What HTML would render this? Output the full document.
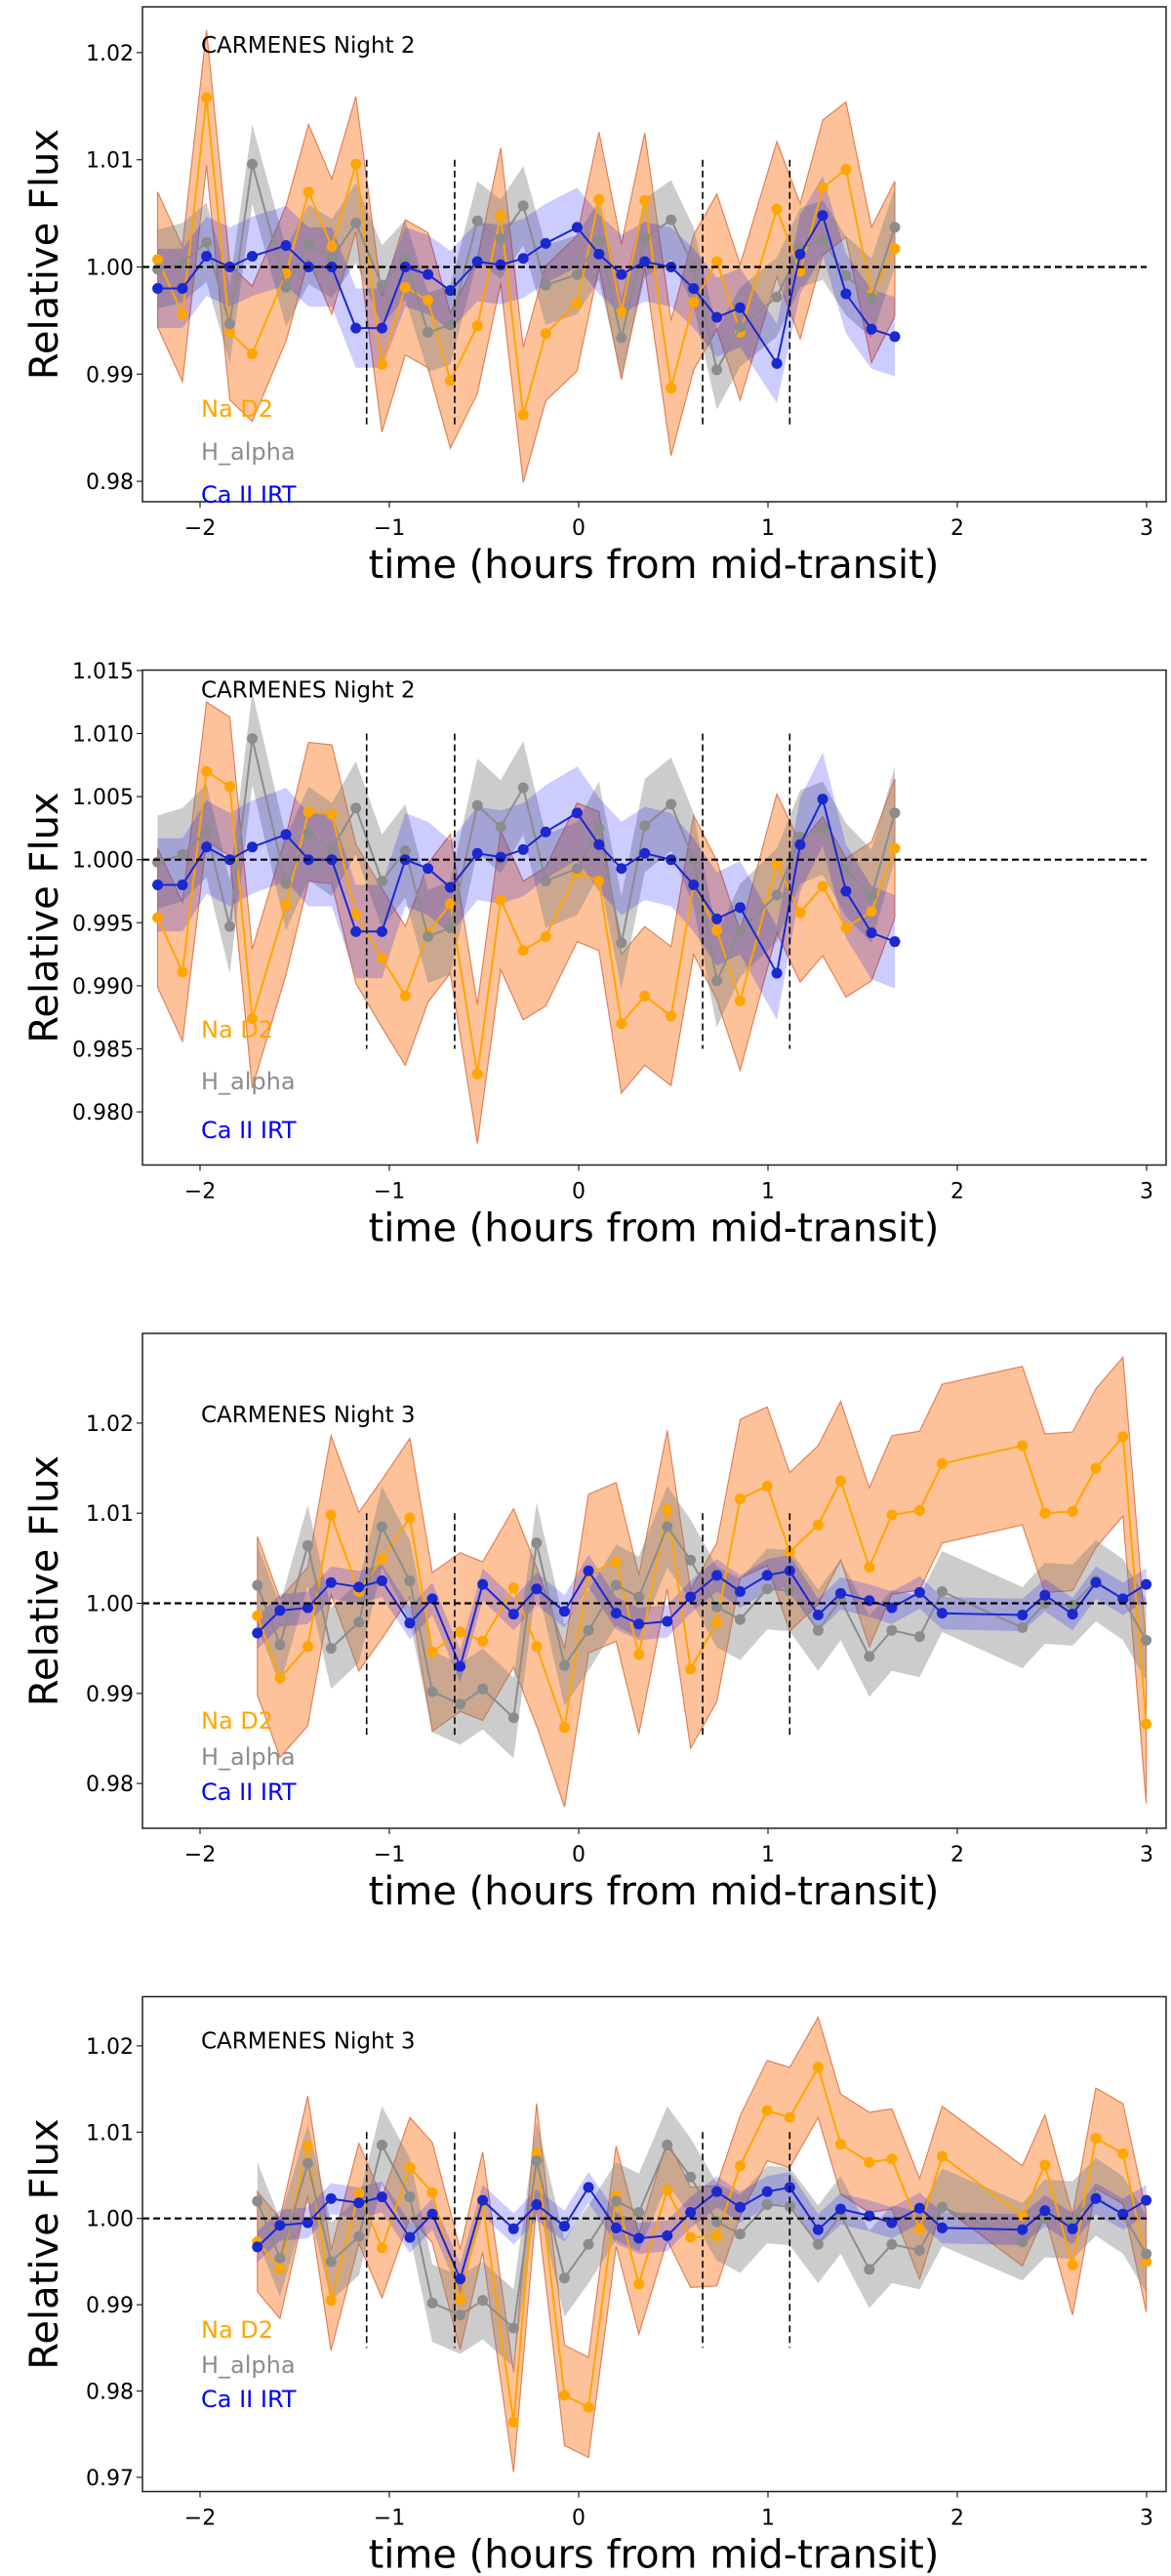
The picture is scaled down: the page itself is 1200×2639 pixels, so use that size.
<!DOCTYPE html>
<html><head><meta charset="utf-8"><style>
html,body{margin:0;padding:0;background:#fff;}
svg{display:block;font-family:"DejaVu Sans","Liberation Sans",sans-serif;}
</style></head><body>
<svg id="fig" width="1200" height="2639" viewBox="0 0 1200 2639" xmlns="http://www.w3.org/2000/svg"></svg>
<script>
// ---- shared data ----
const xTicks = [-2, -1, 0, 1, 2, 3];
const transitMarks = [-1.12, -0.655, 0.655, 1.115];
const night2Times = [-2.224,-2.093,-1.966,-1.843,-1.724,-1.546,-1.427,-1.304,-1.177,-1.039,-0.916,-0.796,-0.678,-0.535,-0.412,-0.293,-0.174,-0.008,0.107,0.226,0.349,0.488,0.607,0.730,0.853,1.047,1.170,1.289,1.412,1.547,1.670];
const night2Blue = [0.998,0.998,1.001,1.000,1.001,1.002,1.000,1.000,0.9943,0.9943,1.000,0.9993,0.9978,1.0005,1.0002,1.0008,1.0022,1.0037,1.0012,0.9993,1.0005,1.000,0.998,0.9953,0.9962,0.991,1.0012,1.0048,0.9975,0.9942,0.9935];
const night2Gray = [0.9998,1.0004,1.0023,0.9947,1.0096,0.9981,1.0021,1.0008,1.0041,0.9983,1.0007,0.9939,0.9946,1.0043,1.0026,1.0057,0.9983,0.9993,1.0025,0.9934,1.0027,1.0044,1.000,0.9904,0.9944,0.9972,1.0018,1.0025,0.9992,0.9971,1.0037];
const night2NaA = [1.0007,0.9956,1.0158,0.9939,0.9919,0.9994,1.007,1.0019,1.0096,0.9909,0.9981,0.9969,0.9894,0.9945,1.0048,0.9862,0.9938,0.9966,1.0063,0.9958,1.0062,0.9887,0.9967,1.0005,0.9939,1.0054,0.9996,1.0074,1.0091,0.9974,1.0017];
const night2NaB = [0.9954,0.9911,1.0070,1.0058,0.9874,0.9964,1.0038,1.0036,0.9957,0.9922,0.9892,0.9942,0.9965,0.9830,0.9968,0.9928,0.9939,0.9990,0.9983,0.9870,0.9892,0.9876,0.9980,0.9944,0.9888,0.9997,0.9958,0.9979,0.9946,0.9959,1.0009];
const night3Times = [-1.697,-1.578,-1.431,-1.308,-1.161,-1.039,-0.892,-0.773,-0.626,-0.507,-0.344,-0.222,-0.075,0.052,0.198,0.318,0.468,0.591,0.730,0.853,0.996,1.115,1.265,1.384,1.535,1.654,1.801,1.920,2.344,2.463,2.609,2.732,2.875,2.998];
const night3Blue = [0.9967,0.9992,0.9995,1.0023,1.0018,1.0025,0.9978,1.0005,0.993,1.0021,0.9988,1.0016,0.9991,1.0036,0.9989,0.9977,0.998,1.0007,1.0031,1.0013,1.0031,1.0036,0.9987,1.0011,1.0003,0.9995,1.0012,0.9989,0.9987,1.0009,0.9988,1.0023,1.0005,1.0021];
const night3Gray = [1.002,0.9954,1.0064,0.995,0.9979,1.0085,1.0025,0.9902,0.9888,0.9905,0.9873,1.0067,0.9931,0.997,1.002,1.0007,1.0085,1.0048,0.9996,0.9982,1.0016,1.0014,0.997,1.0004,0.9941,0.997,0.9963,1.0013,0.9973,1.0,0.9998,1.0025,1.0004,0.9959];
const night3NaA = [0.9986,0.9917,0.9952,1.0098,1.0013,1.0049,1.0095,0.9946,0.9968,0.9958,1.0017,0.9952,0.9862,1.0033,1.0046,0.9943,1.0104,0.9927,0.9979,1.0116,1.013,1.0057,1.0087,1.0136,1.004,1.0098,1.0103,1.0155,1.0175,1.01,1.0102,1.015,1.0185,0.9866];
const night3NaB = [0.9973,0.9942,1.0084,0.9905,1.0029,0.9966,1.0059,1.003,0.9906,1.0019,0.9764,1.0075,0.9795,0.9781,1.0026,0.9924,1.0033,0.9978,0.998,1.0061,1.0125,1.0117,1.0175,1.0086,1.0065,1.0069,0.9988,1.0072,1.0003,1.0062,0.9946,1.0093,1.0075,0.995];
const errBlue2 = 0.0037, errGray2 = 0.0037, errNaA = 0.0063, errNaB = 0.0055;
const errBlue3 = 0.0018, errGray3 = 0.0045, errNa3A = 0.0088, errNa3B = 0.0058;

const panels = [
  {name:'night2-na-panel', title:'CARMENES Night 2', t:night2Times, na:night2NaA, gr:night2Gray, bl:night2Blue, eNa:errNaA, eGr:errGray2, eBl:errBlue2, yTicks:[0.98,0.99,1.00,1.01,1.02], dec:2, y1:273.5, s:109.8, leg:[427,471,515]},
  {name:'night2-nab-panel', title:'CARMENES Night 2', t:night2Times, na:night2NaB, gr:night2Gray, bl:night2Blue, eNa:errNaB, eGr:errGray2, eBl:errBlue2, yTicks:[0.980,0.985,0.990,0.995,1.000,1.005,1.010,1.015], dec:3, y1:880.7, s:129.2, leg:[1063,1116,1166]},
  {name:'night3-na-panel', title:'CARMENES Night 3', t:night3Times, na:night3NaA, gr:night3Gray, bl:night3Blue, eNa:errNa3A, eGr:errGray3, eBl:errBlue3, yTicks:[0.98,0.99,1.00,1.01,1.02], dec:2, y1:1642.5, s:92.3, leg:[1771,1808,1844]},
  {name:'night3-nab-panel', title:'CARMENES Night 3', t:night3Times, na:night3NaB, gr:night3Gray, bl:night3Blue, eNa:errNa3B, eGr:errGray3, eBl:errBlue3, yTicks:[0.97,0.98,0.99,1.00,1.01,1.02], dec:2, y1:2272.7, s:88.4, leg:[2395,2431,2466]}
];

const NS='http://www.w3.org/2000/svg';
const svg=document.getElementById('fig');
function mk(tag, attrs, parent){const e=document.createElementNS(NS,tag);for(const k in attrs)e.setAttribute(k,attrs[k]);(parent||svg).appendChild(e);return e;}
const L=146, R=1195;
const xs = t => 593 + t*194;

panels.forEach((p,i)=>{
  const top = 7 + i*679.5, bot = top + 507;
  const ys = v => p.y1 - (v-1)*p.s*100;
  const g = mk('g',{});
  
  
  const clipId='clip'+i;
  const cp=mk('clipPath',{id:clipId},g); mk('rect',{x:L,y:top,width:R-L,height:bot-top},cp);
  const plot=mk('g',{'clip-path':'url(#'+clipId+')'},g);
  function band(vals, err, fill, op, stroke, name){
    let up=p.t.map((t,j)=>xs(t).toFixed(1)+','+ys(vals[j]+err).toFixed(1));
    let dn=p.t.map((t,j)=>xs(t).toFixed(1)+','+ys(vals[j]-err).toFixed(1)).reverse();
    const e=mk('polygon',{points:up.concat(dn).join(' '),fill:fill,'fill-opacity':op,stroke:stroke,'stroke-width':1.2},plot);
    
    
  }
  function line(vals, color, name){
    const pts=p.t.map((t,j)=>xs(t).toFixed(1)+','+ys(vals[j]).toFixed(1)).join(' ');
    const e=mk('polyline',{points:pts,fill:'none',stroke:color,'stroke-width':2},plot);
    
    
    p.t.forEach((t,j)=>{
      const c=mk('circle',{cx:xs(t),cy:ys(vals[j]),r:5.5,fill:color},plot);
      
      
    });
  }
  band(p.na,p.eNa,'#fb9a55',0.6,'#e0805a','na-d2-band');
  band(p.gr,p.eGr,'#808080',0.4,'none','h-alpha-band');
  band(p.bl,p.eBl,'#0000ff',0.2,'none','ca-irt-band');
  line(p.na,'#ffa500','na-d2');
  line(p.gr,'#8c8c8c','h-alpha');
  line(p.bl,'#1a28d0','ca-irt');
  // reference lines
  const h=mk('line',{x1:L,x2:xs(3),y1:ys(1),y2:ys(1),stroke:'#000','stroke-width':2.2,'stroke-dasharray':'7,4'},g);
  
  
  transitMarks.forEach(m=>{
    const v=mk('line',{x1:xs(m),x2:xs(m),y1:ys(1.01),y2:ys(0.985),stroke:'#000','stroke-width':1.6,'stroke-dasharray':'7,4'},g);
    
    
  });
  // frame
  const fr=mk('rect',{x:L,y:top,width:R-L,height:bot-top,fill:'none',stroke:'#222','stroke-width':1.5},g);
  
  
  xTicks.forEach(t=>{
    mk('line',{x1:xs(t),x2:xs(t),y1:bot,y2:bot+6,stroke:'#222','stroke-width':1.2},g);
    const tx=mk('text',{x:xs(t),y:bot+34,'font-size':22,'text-anchor':'middle',fill:'#000'},g);
    tx.textContent=(t<0?'\u2212'+(-t):String(t));
    
    
  });
  p.yTicks.forEach(v=>{
    mk('line',{x1:L-6,x2:L,y1:ys(v),y2:ys(v),stroke:'#222','stroke-width':1.2},g);
    const tx=mk('text',{x:L-9,y:ys(v)+8,'font-size':22,'text-anchor':'end',fill:'#000'},g);
    tx.textContent=v.toFixed(p.dec);
    
    
  });
  const yl=mk('text',{x:0,y:0,'font-size':40,'text-anchor':'middle',fill:'#000',transform:'translate(59,'+((top+bot)/2)+') rotate(-90)'},g);
  yl.textContent='Relative Flux';
  
  
  const xl=mk('text',{x:670,y:bot+78,'font-size':40,'text-anchor':'middle',fill:'#000'},g);
  xl.textContent='time (hours from mid-transit)';
  
  
  const ti=mk('text',{x:206,y:top+(i==1?28:(i==0?47:(i==2?91:53))),'font-size':23,fill:'#000'},g);
  ti.textContent=p.title;
  
  
  const labs=[['Na D2','#ffa500'],['H_alpha','#8c8c8c'],['Ca II IRT','#0000ff']];
  labs.forEach((l,k)=>{
    const e=mk('text',{x:206,y:p.leg[k],'font-size':24,fill:l[1]},g);
    e.textContent=l[0];
    
    
  });
});
</script>
</body></html>
